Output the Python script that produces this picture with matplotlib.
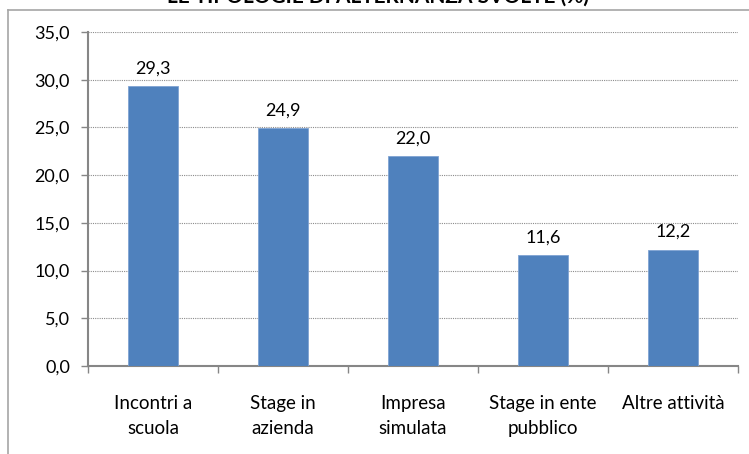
import matplotlib
matplotlib.use("Agg")
import matplotlib.pyplot as plt
from matplotlib.lines import Line2D
import numpy as np

categories = ["Incontri a\nscuola", "Stage in\nazienda", "Impresa\nsimulata",
              "Stage in ente\npubblico", "Altre attività"]
values = [29.3, 24.9, 22.0, 11.6, 12.2]
yticks = [0, 5, 10, 15, 20, 25, 30, 35]
title = "LE TIPOLOGIE DI ALTERNANZA SVOLTE (%)"

plt.rcParams['font.family'] = ['Lato', 'DejaVu Sans']

W, H = 749, 454
fig = plt.figure(figsize=(W / 100, H / 100), dpi=100)

# outer chart frame (left and top visible)
frame_col = "#a6a6a6"
fig.add_artist(Line2D([8 / W, 8 / W], [0, 1 - 10 / H], transform=fig.transFigure,
                      color=frame_col, lw=1.2))
fig.add_artist(Line2D([8 / W, 1], [1 - 10 / H, 1 - 10 / H], transform=fig.transFigure,
                      color=frame_col, lw=1.2))

# clipped title
fig.text(378 / W, 1 - 3 / H, title, ha="center", va="baseline",
         fontsize=15, fontweight="bold", color="black")

left, right = 88 / W, 738 / W
bottom, top = 1 - 366 / H, 1 - 32 / H
ax = fig.add_axes([left, bottom, right - left, top - bottom])

x = np.arange(len(values))
ax.bar(x, values, width=0.39, color="#4F81BD", edgecolor="#7fa3d3", linewidth=0.6, zorder=3)

for xi, v in zip(x, values):
    ax.annotate(f"{v:.1f}".replace(".", ","), (xi, v), xytext=(0, 7),
                textcoords="offset points", ha="center", va="bottom", fontsize=13)

ax.set_xlim(-0.5, len(values) - 0.5)
ax.set_ylim(0, 35)
ax.set_yticks(yticks)
ax.set_yticklabels([f"{t:.1f}".replace(".", ",") for t in yticks], fontsize=13)
ax.yaxis.grid(True, linestyle=(0, (1, 1)), color="#8c8c8c", linewidth=0.8, zorder=0)

ax.set_xticks(x)
ax.set_xticklabels(categories, fontsize=13.5, linespacing=1.55)
ax.set_xticks(np.arange(len(values) + 1) - 0.5, minor=True)
ax.tick_params(axis="x", which="major", length=0, pad=21)
ax.tick_params(axis="x", which="minor", length=5, direction="out", color="#868686", width=1)
ax.tick_params(axis="y", which="major", length=5, direction="out", color="#868686", width=1, pad=8)

for s in ["top", "right"]:
    ax.spines[s].set_visible(False)
for s in ["left", "bottom"]:
    ax.spines[s].set_color("#868686")
    ax.spines[s].set_linewidth(1.5)

fig.savefig("out.png", dpi=100)
